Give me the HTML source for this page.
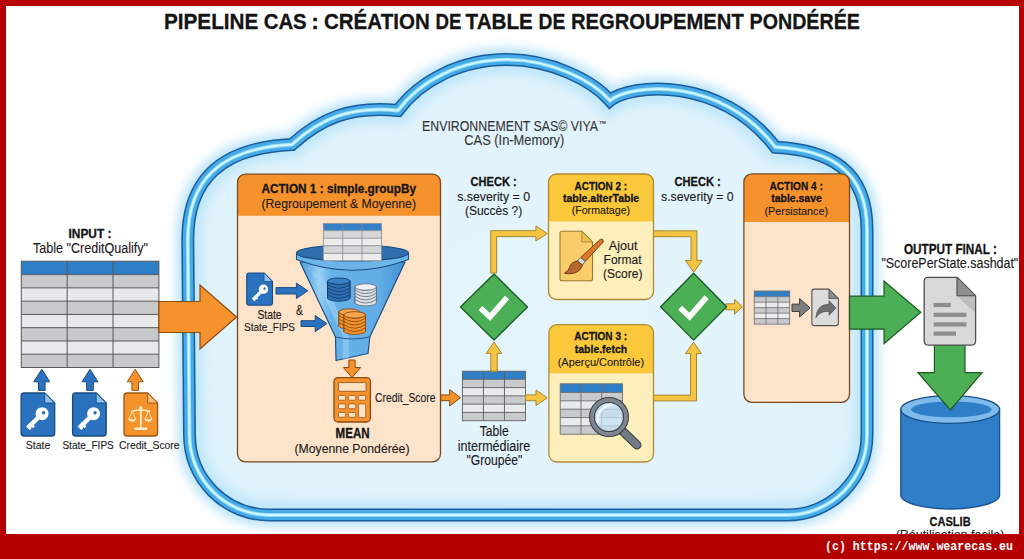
<!DOCTYPE html>
<html><head><meta charset="utf-8">
<style>
html,body{margin:0;padding:0;background:#fff;width:1024px;height:559px;overflow:hidden}
svg{display:block}
text{font-family:"Liberation Sans",sans-serif}
.m{font-family:"Liberation Mono",monospace}
</style></head><body>
<svg width="1024" height="559" viewBox="0 0 1024 559">
<defs><filter id="glow" x="-20%" y="-20%" width="140%" height="140%"><feGaussianBlur stdDeviation="6"/></filter><filter id="glow2" x="-20%" y="-20%" width="140%" height="140%"><feGaussianBlur stdDeviation="5"/></filter><radialGradient id="cfill" cx="0.5" cy="0.55" r="0.6"><stop offset="0" stop-color="#e5f5fd"/><stop offset="0.7" stop-color="#e1f3fc"/><stop offset="1" stop-color="#ddf2fc"/></radialGradient><path id="cloud" d="M 187.8 240 C 187.8 180 220 148 292 144.5 C 320 119 350 105.5 398 110.5 C 420 81 460 59.6 507 59.6 C 550 59.6 592 80 610 100.6 C 630 84 720 75 775.4 147.2 C 830 150 867 170 867 230 L 867 435 A 80 80 0 0 1 787 515 L 269.5 515 A 80 80 0 0 1 189.5 435 Z"/><clipPath id="cclip"><use href="#cloud"/></clipPath><linearGradient id="funnelg" x1="0" y1="0" x2="1" y2="0"><stop offset="0" stop-color="#4898dc"/><stop offset="0.18" stop-color="#96cff3"/><stop offset="0.3" stop-color="#66b1e8"/><stop offset="0.75" stop-color="#62ade6"/><stop offset="1" stop-color="#4390d2"/></linearGradient></defs>
<rect x="0" y="0" width="1024" height="559" fill="#b50000"/>
<rect x="6" y="6" width="1013" height="528" fill="#ffffff"/>
<use href="#cloud" fill="none" stroke="#b0e0f9" stroke-width="22" filter="url(#glow)"/>
<use href="#cloud" fill="url(#cfill)"/>
<g clip-path="url(#cclip)"><use href="#cloud" fill="none" stroke="#c0e7fa" stroke-width="28" filter="url(#glow2)"/></g>
<use href="#cloud" fill="none" stroke="#1a5d9c" stroke-width="13"/>
<use href="#cloud" fill="none" stroke="#45aae6" stroke-width="10"/>
<use href="#cloud" fill="none" stroke="#92dcf8" stroke-width="3.8"/>
<use href="#cloud" fill="none" stroke="#d2f7ff" stroke-width="1.9"/>
<text x="163.9" y="28.7" font-size="22.9" font-weight="bold" textLength="94.5" lengthAdjust="spacingAndGlyphs" fill="#141414" stroke="#141414" stroke-width="0.3" >PIPELINE</text>
<text x="263.70000000000005" y="28.7" font-size="22.9" font-weight="bold" textLength="43.0" lengthAdjust="spacingAndGlyphs" fill="#141414" stroke="#141414" stroke-width="0.3" >CAS</text>
<text x="311.29999999999995" y="28.7" font-size="22.9" font-weight="bold" fill="#141414" stroke="#141414" stroke-width="0.3" >:</text>
<text x="323.90000000000003" y="28.7" font-size="22.9" font-weight="bold" textLength="105.9" lengthAdjust="spacingAndGlyphs" fill="#141414" stroke="#141414" stroke-width="0.3" >CRÉATION</text>
<text x="435.5" y="28.7" font-size="22.9" font-weight="bold" textLength="25.9" lengthAdjust="spacingAndGlyphs" fill="#141414" stroke="#141414" stroke-width="0.3" >DE</text>
<text x="465.6" y="28.7" font-size="22.9" font-weight="bold" textLength="67.3" lengthAdjust="spacingAndGlyphs" fill="#141414" stroke="#141414" stroke-width="0.3" >TABLE</text>
<text x="538.6" y="28.7" font-size="22.9" font-weight="bold" textLength="26.8" lengthAdjust="spacingAndGlyphs" fill="#141414" stroke="#141414" stroke-width="0.3" >DE</text>
<text x="570.9" y="28.7" font-size="22.9" font-weight="bold" textLength="172.9" lengthAdjust="spacingAndGlyphs" fill="#141414" stroke="#141414" stroke-width="0.3" >REGROUPEMENT</text>
<text x="749.6" y="28.7" font-size="22.9" font-weight="bold" textLength="110.3" lengthAdjust="spacingAndGlyphs" fill="#141414" stroke="#141414" stroke-width="0.3" >PONDÉRÉE</text>
<text x="422" y="130.5" font-size="15" textLength="176" lengthAdjust="spacingAndGlyphs" fill="#353535" stroke="#353535" stroke-width="0.12" >ENVIRONNEMENT SAS© VIYA</text>
<text x="598.8" y="126.3" font-size="7.6" fill="#353535" stroke="#353535" stroke-width="0.12" >™</text>
<text x="464.3" y="145.3" font-size="15" textLength="100" lengthAdjust="spacingAndGlyphs" fill="#353535" stroke="#353535" stroke-width="0.12" >CAS (In-Memory)</text>
<text x="90" y="237.7" font-size="12.6" font-weight="bold" text-anchor="middle" textLength="43" lengthAdjust="spacingAndGlyphs" fill="#141414" stroke="#141414" stroke-width="0.3" >INPUT :</text>
<text x="33" y="253" font-size="13.8" textLength="115" lengthAdjust="spacingAndGlyphs" fill="#1a1a1a" stroke="#1a1a1a" stroke-width="0.12" >Table "CreditQualify"</text>
<rect x="21.3" y="261.2" width="137.6" height="13.4" fill="#2f7fc6"/>
<rect x="21.3" y="274.60" width="137.6" height="13.27" fill="#c8c9cb"/>
<rect x="21.3" y="287.87" width="137.6" height="13.27" fill="#e8e9eb"/>
<rect x="21.3" y="301.14" width="137.6" height="13.27" fill="#c8c9cb"/>
<rect x="21.3" y="314.41" width="137.6" height="13.27" fill="#e8e9eb"/>
<rect x="21.3" y="327.69" width="137.6" height="13.27" fill="#c8c9cb"/>
<rect x="21.3" y="340.96" width="137.6" height="13.27" fill="#e8e9eb"/>
<rect x="21.3" y="354.23" width="137.6" height="13.27" fill="#c8c9cb"/>
<line x1="21.3" y1="287.87" x2="158.9" y2="287.87" stroke="#55575a" stroke-width="1"/>
<line x1="21.3" y1="301.14" x2="158.9" y2="301.14" stroke="#55575a" stroke-width="1"/>
<line x1="21.3" y1="314.41" x2="158.9" y2="314.41" stroke="#55575a" stroke-width="1"/>
<line x1="21.3" y1="327.69" x2="158.9" y2="327.69" stroke="#55575a" stroke-width="1"/>
<line x1="21.3" y1="340.96" x2="158.9" y2="340.96" stroke="#55575a" stroke-width="1"/>
<line x1="21.3" y1="354.23" x2="158.9" y2="354.23" stroke="#55575a" stroke-width="1"/>
<line x1="21.3" y1="274.59999999999997" x2="158.9" y2="274.59999999999997" stroke="#55575a" stroke-width="1"/>
<line x1="67.17" y1="261.2" x2="67.17" y2="367.5" stroke="#55575a" stroke-width="1"/>
<line x1="113.03" y1="261.2" x2="113.03" y2="367.5" stroke="#55575a" stroke-width="1"/>
<rect x="21.3" y="261.2" width="137.6" height="106.3" fill="none" stroke="#55575a" stroke-width="1"/>
<polygon points="158.8,301.5 200,301.5 200,285 236.6,317 200,349 200,332.5 158.8,332.5" fill="#f6922b" stroke="#8a4a14" stroke-width="1.2" stroke-linejoin="miter"/>
<polygon points="38.5,390.4 38.5,381.8 33.8,381.8 41.8,369.3 49.8,381.8 45.099999999999994,381.8 45.099999999999994,390.4" fill="#2a72be" stroke="#1b4a82" stroke-width="1" stroke-linejoin="miter"/>
<path d="M24.1,393 L44.7,393 L54.7,403 L54.7,433 Q54.7,436 51.7,436 L24.1,436 Q21.1,436 21.1,433 L21.1,396 Q21.1,393 24.1,393 Z" fill="#2a72be" stroke="#1b4a82" stroke-width="1.3" stroke-linejoin="round"/>
<path d="M44.7,393 L44.7,403 L54.7,403 Z" fill="#8cc2ee" stroke="#1b4a82" stroke-width="0.9099999999999999" stroke-linejoin="round"/>
<polygon points="86.7,390.4 86.7,381.8 82,381.8 90,369.3 98,381.8 93.3,381.8 93.3,390.4" fill="#2a72be" stroke="#1b4a82" stroke-width="1" stroke-linejoin="miter"/>
<path d="M75.6,393 L96.19999999999999,393 L106.19999999999999,403 L106.19999999999999,433 Q106.19999999999999,436 103.19999999999999,436 L75.6,436 Q72.6,436 72.6,433 L72.6,396 Q72.6,393 75.6,393 Z" fill="#2a72be" stroke="#1b4a82" stroke-width="1.3" stroke-linejoin="round"/>
<path d="M96.19999999999999,393 L96.19999999999999,403 L106.19999999999999,403 Z" fill="#8cc2ee" stroke="#1b4a82" stroke-width="0.9099999999999999" stroke-linejoin="round"/>
<polygon points="131.89999999999998,390.4 131.89999999999998,381.8 127.19999999999999,381.8 135.2,369.3 143.2,381.8 138.5,381.8 138.5,390.4" fill="#f6922b" stroke="#9a5514" stroke-width="1" stroke-linejoin="miter"/>
<path d="M127,393 L147.6,393 L157.6,403 L157.6,433 Q157.6,436 154.6,436 L127,436 Q124,436 124,433 L124,396 Q124,393 127,393 Z" fill="#f6922b" stroke="#9a5514" stroke-width="1.3" stroke-linejoin="round"/>
<path d="M147.6,393 L147.6,403 L157.6,403 Z" fill="#f8bf78" stroke="#9a5514" stroke-width="0.9099999999999999" stroke-linejoin="round"/>
<g transform="translate(37.5,418.3) scale(1.3) rotate(45)" fill="#fff"><circle cx="0" cy="-5" r="5"/><rect x="-1.7" y="-2" width="3.4" height="12.5" rx="0.6"/><rect x="-1.7" y="5.8" width="4.6" height="2"/><rect x="-1.7" y="8.6" width="3.9" height="1.9"/></g>
<g transform="translate(37.5,418.3) scale(1.3) rotate(45)"><circle cx="0.3" cy="-6.3" r="1.3" fill="#2a6fb8"/></g>
<g transform="translate(89,418.3) scale(1.3) rotate(45)" fill="#fff"><circle cx="0" cy="-5" r="5"/><rect x="-1.7" y="-2" width="3.4" height="12.5" rx="0.6"/><rect x="-1.7" y="5.8" width="4.6" height="2"/><rect x="-1.7" y="8.6" width="3.9" height="1.9"/></g>
<g transform="translate(89,418.3) scale(1.3) rotate(45)"><circle cx="0.3" cy="-6.3" r="1.3" fill="#2a6fb8"/></g>
<g fill="#fdeccb" stroke="none"><rect x="139.9" y="407" width="1.8" height="21"/><rect x="134.3" y="427.5" width="13" height="2.4" rx="0.5"/><path d="M131.5,411.4 Q140.8,408.6 150.1,411.4" fill="none" stroke="#fdeccb" stroke-width="1.6"/><path d="M128.8,419.5 L132.3,411.2 L135.8,419.5" fill="none" stroke="#fdeccb" stroke-width="0.9"/><path d="M144.9,419.5 L148.4,411.2 L151.9,419.5" fill="none" stroke="#fdeccb" stroke-width="0.9"/><path d="M128,419.2 Q132.3,425 136.6,419.2 Z"/><path d="M144.1,419.2 Q148.4,425 152.7,419.2 Z"/><circle cx="140.8" cy="407.6" r="1.6"/></g>
<text x="38" y="449.4" font-size="11.8" text-anchor="middle" textLength="24.6" lengthAdjust="spacingAndGlyphs" fill="#1a1a1a" stroke="#1a1a1a" stroke-width="0.12" >State</text>
<text x="62.4" y="449.4" font-size="11.8" textLength="51.4" lengthAdjust="spacingAndGlyphs" fill="#1a1a1a" stroke="#1a1a1a" stroke-width="0.12" >State_FIPS</text>
<text x="119" y="449.4" font-size="11.8" textLength="60.6" lengthAdjust="spacingAndGlyphs" fill="#1a1a1a" stroke="#1a1a1a" stroke-width="0.12" >Credit_Score</text>
<rect x="237.5" y="174.2" width="203" height="287.6" rx="8" fill="#fde3ca"/>
<path d="M237.5,215.79999999999998 L237.5,182.2 Q237.5,174.2 245.5,174.2 L432.5,174.2 Q440.5,174.2 440.5,182.2 L440.5,215.79999999999998 Z" fill="#f6922b"/>
<rect x="237.5" y="174.2" width="203" height="287.6" rx="8" fill="none" stroke="#7a4a1e" stroke-width="1.3"/>
<text x="338.7" y="193.3" font-size="12.8" font-weight="bold" text-anchor="middle" textLength="154.6" lengthAdjust="spacingAndGlyphs" fill="#141414" stroke="#141414" stroke-width="0.3" >ACTION 1 : simple.groupBy</text>
<text x="338.7" y="208.3" font-size="12.8" text-anchor="middle" textLength="154.6" lengthAdjust="spacingAndGlyphs" fill="#1a1a1a" stroke="#1a1a1a" stroke-width="0.12" >(Regroupement &amp; Moyenne)</text>
<path d="M300,262 L335.5,337 L336,360.5 L368,353.5 L369.8,337 L405,262 Z" fill="url(#funnelg)" stroke="#1d4f85" stroke-width="1.2" stroke-linejoin="round"/>
<path d="M312,272 L343,337 L343,359 L349,358 L349,337 L322,274 Z" fill="#9fd3f4" opacity="0.55"/>
<path d="M296.5,253 L296.5,259.5 Q352.5,281 408.5,259.5 L408.5,253 Z" fill="#6db4ea" stroke="#1d4f85" stroke-width="1.1" stroke-linejoin="round"/>
<path d="M335.5,337 Q352,341 369.8,337" fill="none" stroke="#1d4f85" stroke-width="0.9"/>
<ellipse cx="352.5" cy="253" rx="56" ry="8" fill="#2f6fae" stroke="#1d4f85" stroke-width="1.2"/>
<rect x="323.3" y="223.6" width="58.1" height="7.1" fill="#3582c8"/>
<rect x="323.3" y="230.70" width="58.1" height="7.53" fill="#d5d6d8"/>
<rect x="323.3" y="238.22" width="58.1" height="7.53" fill="#ececec"/>
<rect x="323.3" y="245.75" width="58.1" height="7.53" fill="#d5d6d8"/>
<rect x="323.3" y="253.27" width="58.1" height="7.53" fill="#ececec"/>
<line x1="323.3" y1="238.22" x2="381.40000000000003" y2="238.22" stroke="#8a8c90" stroke-width="0.8"/>
<line x1="323.3" y1="245.75" x2="381.40000000000003" y2="245.75" stroke="#8a8c90" stroke-width="0.8"/>
<line x1="323.3" y1="253.27" x2="381.40000000000003" y2="253.27" stroke="#8a8c90" stroke-width="0.8"/>
<line x1="323.3" y1="230.7" x2="381.40000000000003" y2="230.7" stroke="#8a8c90" stroke-width="0.8"/>
<line x1="342.67" y1="223.6" x2="342.67" y2="260.8" stroke="#8a8c90" stroke-width="0.8"/>
<line x1="362.03" y1="223.6" x2="362.03" y2="260.8" stroke="#8a8c90" stroke-width="0.8"/>
<rect x="323.3" y="223.6" width="58.1" height="37.2" fill="none" stroke="#8a8c90" stroke-width="0.8"/>
<rect x="327.6" y="281.2" width="22.4" height="16.799999999999997" fill="#2d6fb6" stroke="#163f6d" stroke-width="0.9"/>
<ellipse cx="338.8" cy="298.0" rx="11.2" ry="3.2" fill="#2d6fb6" stroke="#163f6d" stroke-width="0.9"/>
<rect x="328.1" y="281.2" width="21.4" height="16.799999999999997" fill="#2d6fb6"/>
<path d="M327.6,281.36 Q338.8,288.40 350.0,281.36" fill="none" stroke="#163f6d" stroke-width="0.9"/>
<path d="M327.6,284.72 Q338.8,291.76 350.0,284.72" fill="none" stroke="#163f6d" stroke-width="0.9"/>
<path d="M327.6,288.08 Q338.8,295.12 350.0,288.08" fill="none" stroke="#163f6d" stroke-width="0.9"/>
<path d="M327.6,291.44 Q338.8,298.48 350.0,291.44" fill="none" stroke="#163f6d" stroke-width="0.9"/>
<path d="M327.6,294.80 Q338.8,301.84 350.0,294.80" fill="none" stroke="#163f6d" stroke-width="0.9"/>
<line x1="327.6" y1="281.2" x2="327.6" y2="298.0" stroke="#163f6d" stroke-width="0.9"/>
<line x1="350.0" y1="281.2" x2="350.0" y2="298.0" stroke="#163f6d" stroke-width="0.9"/>
<ellipse cx="338.8" cy="281.2" rx="11.2" ry="3.2" fill="#3b7fc4" stroke="#163f6d" stroke-width="0.9"/>
<rect x="355" y="287.0" width="21.4" height="15.700000000000001" fill="#dde2e8" stroke="#66707c" stroke-width="0.9"/>
<ellipse cx="365.7" cy="302.70000000000005" rx="10.7" ry="3.2" fill="#dde2e8" stroke="#66707c" stroke-width="0.9"/>
<rect x="355.5" y="287.0" width="20.4" height="15.700000000000001" fill="#dde2e8"/>
<path d="M355,286.94 Q365.7,293.98 376.4,286.94" fill="none" stroke="#66707c" stroke-width="0.9"/>
<path d="M355,290.08 Q365.7,297.12 376.4,290.08" fill="none" stroke="#66707c" stroke-width="0.9"/>
<path d="M355,293.22 Q365.7,300.26 376.4,293.22" fill="none" stroke="#66707c" stroke-width="0.9"/>
<path d="M355,296.36 Q365.7,303.40 376.4,296.36" fill="none" stroke="#66707c" stroke-width="0.9"/>
<path d="M355,299.50 Q365.7,306.54 376.4,299.50" fill="none" stroke="#66707c" stroke-width="0.9"/>
<line x1="355" y1="287.0" x2="355" y2="302.70000000000005" stroke="#66707c" stroke-width="0.9"/>
<line x1="376.4" y1="287.0" x2="376.4" y2="302.70000000000005" stroke="#66707c" stroke-width="0.9"/>
<ellipse cx="365.7" cy="287.0" rx="10.7" ry="3.2" fill="#eef1f4" stroke="#66707c" stroke-width="0.9"/>
<rect x="338.8" y="312.09999999999997" width="20.9" height="13.700000000000001" fill="#f6922b" stroke="#8a4a10" stroke-width="0.9"/>
<ellipse cx="349.25" cy="325.8" rx="10.45" ry="3.2" fill="#f6922b" stroke="#8a4a10" stroke-width="0.9"/>
<rect x="339.3" y="312.09999999999997" width="19.9" height="13.700000000000001" fill="#f6922b"/>
<path d="M338.8,312.32 Q349.25,319.36 359.7,312.32" fill="none" stroke="#8a4a10" stroke-width="0.9"/>
<path d="M338.8,315.75 Q349.25,322.79 359.7,315.75" fill="none" stroke="#8a4a10" stroke-width="0.9"/>
<path d="M338.8,319.17 Q349.25,326.21 359.7,319.17" fill="none" stroke="#8a4a10" stroke-width="0.9"/>
<path d="M338.8,322.60 Q349.25,329.64 359.7,322.60" fill="none" stroke="#8a4a10" stroke-width="0.9"/>
<line x1="338.8" y1="312.09999999999997" x2="338.8" y2="325.8" stroke="#8a4a10" stroke-width="0.9"/>
<line x1="359.7" y1="312.09999999999997" x2="359.7" y2="325.8" stroke="#8a4a10" stroke-width="0.9"/>
<ellipse cx="349.25" cy="312.09999999999997" rx="10.45" ry="3.2" fill="#f6a54d" stroke="#8a4a10" stroke-width="0.9"/>
<rect x="343.9" y="314.9" width="21.6" height="16.299999999999997" fill="#f6922b" stroke="#8a4a10" stroke-width="0.9"/>
<ellipse cx="354.7" cy="331.2" rx="10.8" ry="3.2" fill="#f6922b" stroke="#8a4a10" stroke-width="0.9"/>
<rect x="344.4" y="314.9" width="20.6" height="16.299999999999997" fill="#f6922b"/>
<path d="M343.9,314.96 Q354.7,322.00 365.5,314.96" fill="none" stroke="#8a4a10" stroke-width="0.9"/>
<path d="M343.9,318.22 Q354.7,325.26 365.5,318.22" fill="none" stroke="#8a4a10" stroke-width="0.9"/>
<path d="M343.9,321.48 Q354.7,328.52 365.5,321.48" fill="none" stroke="#8a4a10" stroke-width="0.9"/>
<path d="M343.9,324.74 Q354.7,331.78 365.5,324.74" fill="none" stroke="#8a4a10" stroke-width="0.9"/>
<path d="M343.9,328.00 Q354.7,335.04 365.5,328.00" fill="none" stroke="#8a4a10" stroke-width="0.9"/>
<line x1="343.9" y1="314.9" x2="343.9" y2="331.2" stroke="#8a4a10" stroke-width="0.9"/>
<line x1="365.5" y1="314.9" x2="365.5" y2="331.2" stroke="#8a4a10" stroke-width="0.9"/>
<ellipse cx="354.7" cy="314.9" rx="10.8" ry="3.2" fill="#f6a54d" stroke="#8a4a10" stroke-width="0.9"/>
<path d="M249.2,273 L264.0,273 L272.5,281.5 L272.5,302.8 Q272.5,305.3 270.0,305.3 L249.2,305.3 Q246.7,305.3 246.7,302.8 L246.7,275.5 Q246.7,273 249.2,273 Z" fill="#2a72be" stroke="#1b4a82" stroke-width="1.1" stroke-linejoin="round"/>
<path d="M264.0,273 L264.0,281.5 L272.5,281.5 Z" fill="#8cc2ee" stroke="#1b4a82" stroke-width="0.77" stroke-linejoin="round"/>
<g transform="translate(260.1,292.6) scale(0.95) rotate(45)" fill="#fff"><circle cx="0" cy="-5" r="5"/><rect x="-1.7" y="-2" width="3.4" height="12.5" rx="0.6"/><rect x="-1.7" y="5.8" width="4.6" height="2"/><rect x="-1.7" y="8.6" width="3.9" height="1.9"/></g>
<g transform="translate(260.1,292.6) scale(0.95) rotate(45)"><circle cx="0.3" cy="-6.3" r="1.3" fill="#2a6fb8"/></g>
<polygon points="276,287.6 296.4,287.6 296.4,283.1 307.8,290.8 296.4,298.5 296.4,294.0 276,294.0" fill="#2a72be" stroke="#1b4a82" stroke-width="1" stroke-linejoin="miter"/>
<polygon points="301,320.70000000000005 315.2,320.70000000000005 315.2,315.6 327,323.6 315.2,331.6 315.2,326.5 301,326.5" fill="#2a72be" stroke="#1b4a82" stroke-width="1" stroke-linejoin="miter"/>
<text x="299.4" y="314.6" font-size="14.6" text-anchor="middle" textLength="7" lengthAdjust="spacingAndGlyphs" fill="#1a1a1a" stroke="#1a1a1a" stroke-width="0.12" >&amp;</text>
<text x="269.5" y="318.9" font-size="11.9" text-anchor="middle" textLength="24.2" lengthAdjust="spacingAndGlyphs" fill="#1a1a1a" stroke="#1a1a1a" stroke-width="0.12" >State</text>
<text x="244" y="331.3" font-size="11.7" textLength="51" lengthAdjust="spacingAndGlyphs" fill="#1a1a1a" stroke="#1a1a1a" stroke-width="0.12" >State_FIPS</text>
<polygon points="348.9,360 348.9,367.5 343.4,367.5 352,377.6 360.6,367.5 355.1,367.5 355.1,360" fill="#f6922b" stroke="#8a4a14" stroke-width="1" stroke-linejoin="miter"/>
<rect x="334" y="377.6" width="36.4" height="44.4" rx="4" fill="#f6922b" stroke="#8a4a14" stroke-width="1.3"/>
<rect x="338.5" y="382.6" width="27.6" height="8.7" rx="1" fill="#fde3c6" stroke="#8a4a14" stroke-width="0.8"/>
<rect x="338.5" y="395.4" width="7.1" height="4.8" rx="0.8" fill="#fde3c6" stroke="#8a4a14" stroke-width="0.7"/>
<rect x="348.6" y="395.4" width="7.1" height="4.8" rx="0.8" fill="#fde3c6" stroke="#8a4a14" stroke-width="0.7"/>
<rect x="358.6" y="395.4" width="7.1" height="4.8" rx="0.8" fill="#fde3c6" stroke="#8a4a14" stroke-width="0.7"/>
<rect x="338.5" y="403.9" width="7.1" height="4.8" rx="0.8" fill="#fde3c6" stroke="#8a4a14" stroke-width="0.7"/>
<rect x="348.6" y="403.9" width="7.1" height="4.8" rx="0.8" fill="#fde3c6" stroke="#8a4a14" stroke-width="0.7"/>
<rect x="338.5" y="412.4" width="7.1" height="4.8" rx="0.8" fill="#fde3c6" stroke="#8a4a14" stroke-width="0.7"/>
<rect x="348.6" y="412.4" width="7.1" height="4.8" rx="0.8" fill="#fde3c6" stroke="#8a4a14" stroke-width="0.7"/>
<rect x="358.6" y="403.9" width="7.1" height="13.5" rx="0.8" fill="#fde3c6" stroke="#8a4a14" stroke-width="0.7"/>
<text x="375.1" y="402" font-size="12.4" textLength="60.4" lengthAdjust="spacingAndGlyphs" fill="#1a1a1a" stroke="#1a1a1a" stroke-width="0.12" >Credit_Score</text>
<text x="352.6" y="438" font-size="14" font-weight="bold" text-anchor="middle" textLength="34" lengthAdjust="spacingAndGlyphs" fill="#141414" stroke="#141414" stroke-width="0.3" >MEAN</text>
<text x="352" y="452.8" font-size="13.2" text-anchor="middle" textLength="115" lengthAdjust="spacingAndGlyphs" fill="#1a1a1a" stroke="#1a1a1a" stroke-width="0.12" >(Moyenne Pondérée)</text>
<polygon points="440.8,394.90000000000003 449.7,394.90000000000003 449.7,389.6 460.5,397.8 449.7,406.0 449.7,400.7 440.8,400.7" fill="#f6922b" stroke="#8a4a14" stroke-width="1" stroke-linejoin="miter"/>
<rect x="462.4" y="371.2" width="63.1" height="8.1" fill="#2f7fc6"/>
<rect x="462.4" y="379.30" width="63.1" height="8.28" fill="#c9cacc"/>
<rect x="462.4" y="387.58" width="63.1" height="8.28" fill="#e9eaeb"/>
<rect x="462.4" y="395.86" width="63.1" height="8.28" fill="#c9cacc"/>
<rect x="462.4" y="404.14" width="63.1" height="8.28" fill="#e9eaeb"/>
<rect x="462.4" y="412.42" width="63.1" height="8.28" fill="#c9cacc"/>
<line x1="462.4" y1="387.58" x2="525.5" y2="387.58" stroke="#5f6063" stroke-width="0.9"/>
<line x1="462.4" y1="395.86" x2="525.5" y2="395.86" stroke="#5f6063" stroke-width="0.9"/>
<line x1="462.4" y1="404.14" x2="525.5" y2="404.14" stroke="#5f6063" stroke-width="0.9"/>
<line x1="462.4" y1="412.42" x2="525.5" y2="412.42" stroke="#5f6063" stroke-width="0.9"/>
<line x1="462.4" y1="379.3" x2="525.5" y2="379.3" stroke="#5f6063" stroke-width="0.9"/>
<line x1="483.43" y1="371.2" x2="483.43" y2="420.7" stroke="#5f6063" stroke-width="0.9"/>
<line x1="504.47" y1="371.2" x2="504.47" y2="420.7" stroke="#5f6063" stroke-width="0.9"/>
<rect x="462.4" y="371.2" width="63.1" height="49.5" fill="none" stroke="#5f6063" stroke-width="0.9"/>
<text x="494.2" y="436.4" font-size="13.8" text-anchor="middle" textLength="29" lengthAdjust="spacingAndGlyphs" fill="#1a1a1a" stroke="#1a1a1a" stroke-width="0.12" >Table</text>
<text x="494" y="451" font-size="13.8" text-anchor="middle" textLength="72.5" lengthAdjust="spacingAndGlyphs" fill="#1a1a1a" stroke="#1a1a1a" stroke-width="0.12" >intermédiaire</text>
<text x="494.4" y="465.2" font-size="13.8" text-anchor="middle" textLength="56" lengthAdjust="spacingAndGlyphs" fill="#1a1a1a" stroke="#1a1a1a" stroke-width="0.12" >"Groupée"</text>
<polygon points="490.8,371.2 490.8,353.4 486.3,353.4 494,342 501.7,353.4 497.2,353.4 497.2,371.2" fill="#f6c443" stroke="#a5852e" stroke-width="1" stroke-linejoin="miter"/>
<polygon points="525.5,394.90000000000003 536,394.90000000000003 536,390.0 547.2,397.8 536,405.6 536,400.7 525.5,400.7" fill="#f6c443" stroke="#a5852e" stroke-width="1" stroke-linejoin="miter"/>
<polygon points="490.7,273 490.7,230.7 535.9,230.7 535.9,225.9 547.3,233.6 535.9,240.9 535.9,236.6 496.6,236.6 496.6,273" fill="#f6c443" stroke="#a5852e" stroke-width="1"/>
<polygon points="653.5,230.8 696.9,230.8 696.9,260.4 702.2,260.4 693.8,272.4 685.4,260.4 691,260.4 691,236.7 653.5,236.7" fill="#f6c443" stroke="#a5852e" stroke-width="1"/>
<polygon points="653.5,400.9 696.5,400.9 696.5,353.6 701.5,353.6 693.6,342.2 685.4,353.6 690.5,353.6 690.5,395.1 653.5,395.1" fill="#f6c443" stroke="#a5852e" stroke-width="1"/>
<polygon points="725.8,303.85 734.6,303.85 734.6,299.40000000000003 742.3,306.8 734.6,314.2 734.6,309.75 725.8,309.75" fill="#f6c443" stroke="#a5852e" stroke-width="1" stroke-linejoin="miter"/>
<polygon points="494,274 527.5,307 494,340 460.5,307" fill="#4caf55" stroke="#155a20" stroke-width="1.3" stroke-linejoin="round"/>
<path d="M480.5,308 L490,317 L507,297.5" fill="none" stroke="#fff" stroke-width="5.6" stroke-linecap="butt" stroke-linejoin="miter"/>
<polygon points="693.6,273.3 726.6,306.7 693.6,340.09999999999997 660.6,306.7" fill="#4caf55" stroke="#155a20" stroke-width="1.3" stroke-linejoin="round"/>
<path d="M680.1,307.7 L689.6,316.7 L706.6,297.2" fill="none" stroke="#fff" stroke-width="5.6" stroke-linecap="butt" stroke-linejoin="miter"/>
<text x="493.6" y="185.6" font-size="12.6" font-weight="bold" text-anchor="middle" textLength="46.1" lengthAdjust="spacingAndGlyphs" fill="#141414" stroke="#141414" stroke-width="0.3" >CHECK :</text>
<text x="457.2" y="200.7" font-size="13.1" textLength="72.9" lengthAdjust="spacingAndGlyphs" fill="#1a1a1a" stroke="#1a1a1a" stroke-width="0.12" >s.severity = 0</text>
<text x="464.9" y="214.6" font-size="13.1" textLength="57.4" lengthAdjust="spacingAndGlyphs" fill="#1a1a1a" stroke="#1a1a1a" stroke-width="0.12" >(Succès ?)</text>
<text x="697.6" y="185.8" font-size="12.6" font-weight="bold" text-anchor="middle" textLength="46.2" lengthAdjust="spacingAndGlyphs" fill="#141414" stroke="#141414" stroke-width="0.3" >CHECK :</text>
<text x="661" y="200.6" font-size="13.1" textLength="72.6" lengthAdjust="spacingAndGlyphs" fill="#1a1a1a" stroke="#1a1a1a" stroke-width="0.12" >s.severity = 0</text>
<rect x="548.5" y="174" width="105" height="125.5" rx="8" fill="#fdefbc"/>
<path d="M548.5,221.6 L548.5,182 Q548.5,174 556.5,174 L645.5,174 Q653.5,174 653.5,182 L653.5,221.6 Z" fill="#fac83a"/>
<rect x="548.5" y="174" width="105" height="125.5" rx="8" fill="none" stroke="#b08a35" stroke-width="1.3"/>
<text x="600.85" y="189.8" font-size="11.3" font-weight="bold" text-anchor="middle" textLength="52.7" lengthAdjust="spacingAndGlyphs" fill="#141414" stroke="#141414" stroke-width="0.3" >ACTION 2 :</text>
<text x="601.05" y="202.4" font-size="11.3" font-weight="bold" text-anchor="middle" textLength="76.3" lengthAdjust="spacingAndGlyphs" fill="#141414" stroke="#141414" stroke-width="0.3" >table.alterTable</text>
<text x="600.9" y="214.4" font-size="11.3" text-anchor="middle" textLength="58.4" lengthAdjust="spacingAndGlyphs" fill="#1a1a1a" stroke="#1a1a1a" stroke-width="0.12" >(Formatage)</text>
<path d="M562,231.3 L581.9,231.3 L592.5,241.9 L592.5,278.7 Q592.5,280.7 590.5,280.7 L562,280.7 Q560,280.7 560,278.7 L560,233.3 Q560,231.3 562,231.3 Z" fill="#f9cd6a" stroke="#9a7a30" stroke-width="1.1" stroke-linejoin="round"/>
<path d="M581.9,231.3 L581.9,241.9 L592.5,241.9 Z" fill="#efbf50" stroke="#9a7a30" stroke-width="0.77" stroke-linejoin="round"/>
<g><path d="M600.5,239.2 Q603.8,238.8 603.2,242 L585.2,261.4 L580.6,257.6 Z" fill="#d9792c" stroke="#7a3e12" stroke-width="1"/><path d="M580.6,257.6 L585.2,261.4 L582.4,265 L577.4,261 Z" fill="#d6dde3" stroke="#5a5f66" stroke-width="0.9"/><path d="M577.4,261 L582.4,265 Q580,273 571,273.6 Q567,274 564.4,273.2 Q568.5,271 569.5,267.5 Q571,262 577.4,261 Z" fill="#b5692f" stroke="#6e3510" stroke-width="1"/></g>
<text x="623.1" y="249.5" font-size="13.1" text-anchor="middle" textLength="28.6" lengthAdjust="spacingAndGlyphs" fill="#1a1a1a" stroke="#1a1a1a" stroke-width="0.12" >Ajout</text>
<text x="622.6" y="264.2" font-size="13.1" text-anchor="middle" textLength="38" lengthAdjust="spacingAndGlyphs" fill="#1a1a1a" stroke="#1a1a1a" stroke-width="0.12" >Format</text>
<text x="622.7" y="278.4" font-size="13.1" text-anchor="middle" textLength="39.4" lengthAdjust="spacingAndGlyphs" fill="#1a1a1a" stroke="#1a1a1a" stroke-width="0.12" >(Score)</text>
<rect x="548.9" y="324.7" width="104.6" height="137.3" rx="8" fill="#fdefbc"/>
<path d="M548.9,373.2 L548.9,332.7 Q548.9,324.7 556.9,324.7 L645.5,324.7 Q653.5,324.7 653.5,332.7 L653.5,373.2 Z" fill="#fac83a"/>
<rect x="548.9" y="324.7" width="104.6" height="137.3" rx="8" fill="none" stroke="#b08a35" stroke-width="1.3"/>
<text x="600.65" y="340.4" font-size="11.3" font-weight="bold" text-anchor="middle" textLength="52.9" lengthAdjust="spacingAndGlyphs" fill="#141414" stroke="#141414" stroke-width="0.3" >ACTION 3 :</text>
<text x="600.95" y="353.3" font-size="11.3" font-weight="bold" text-anchor="middle" textLength="52.3" lengthAdjust="spacingAndGlyphs" fill="#141414" stroke="#141414" stroke-width="0.3" >table.fetch</text>
<text x="600.9" y="365.7" font-size="11.3" text-anchor="middle" textLength="86.4" lengthAdjust="spacingAndGlyphs" fill="#1a1a1a" stroke="#1a1a1a" stroke-width="0.12" >(Aperçu/Contrôle)</text>
<rect x="560.2" y="383.8" width="62.3" height="8.7" fill="#2f7fc6"/>
<rect x="560.2" y="392.50" width="62.3" height="8.34" fill="#c9cacc"/>
<rect x="560.2" y="400.84" width="62.3" height="8.34" fill="#e9eaeb"/>
<rect x="560.2" y="409.18" width="62.3" height="8.34" fill="#c9cacc"/>
<rect x="560.2" y="417.52" width="62.3" height="8.34" fill="#e9eaeb"/>
<rect x="560.2" y="425.86" width="62.3" height="8.34" fill="#c9cacc"/>
<line x1="560.2" y1="400.84" x2="622.5" y2="400.84" stroke="#6b6c70" stroke-width="0.9"/>
<line x1="560.2" y1="409.18" x2="622.5" y2="409.18" stroke="#6b6c70" stroke-width="0.9"/>
<line x1="560.2" y1="417.52" x2="622.5" y2="417.52" stroke="#6b6c70" stroke-width="0.9"/>
<line x1="560.2" y1="425.86" x2="622.5" y2="425.86" stroke="#6b6c70" stroke-width="0.9"/>
<line x1="560.2" y1="392.5" x2="622.5" y2="392.5" stroke="#6b6c70" stroke-width="0.9"/>
<line x1="580.97" y1="383.8" x2="580.97" y2="434.2" stroke="#6b6c70" stroke-width="0.9"/>
<line x1="601.73" y1="383.8" x2="601.73" y2="434.2" stroke="#6b6c70" stroke-width="0.9"/>
<rect x="560.2" y="383.8" width="62.3" height="50.4" fill="none" stroke="#6b6c70" stroke-width="0.9"/>
<line x1="623.5" y1="432" x2="637" y2="445" stroke="#3a3f45" stroke-width="9" stroke-linecap="round"/>
<line x1="623.5" y1="432" x2="637" y2="445" stroke="#737b84" stroke-width="6.8" stroke-linecap="round"/>
<circle cx="609" cy="417" r="17" fill="#c4e2f4" fill-opacity="0.75" stroke="#3a3f45" stroke-width="6"/>
<circle cx="609" cy="417" r="17" fill="none" stroke="#7e868f" stroke-width="3.9"/>
<path d="M597.5,422 Q597,408 611,404.5" fill="none" stroke="#eef8ff" stroke-width="2.4" stroke-linecap="round"/>
<rect x="743.9" y="173.9" width="105.6" height="228.4" rx="8" fill="#fde3ca"/>
<path d="M743.9,221.9 L743.9,181.9 Q743.9,173.9 751.9,173.9 L841.5,173.9 Q849.5,173.9 849.5,181.9 L849.5,221.9 Z" fill="#f6922b"/>
<rect x="743.9" y="173.9" width="105.6" height="228.4" rx="8" fill="none" stroke="#7a4a1e" stroke-width="1.3"/>
<text x="796.15" y="189.6" font-size="11.3" font-weight="bold" text-anchor="middle" textLength="53.3" lengthAdjust="spacingAndGlyphs" fill="#141414" stroke="#141414" stroke-width="0.3" >ACTION 4 :</text>
<text x="796.55" y="202.3" font-size="11.3" font-weight="bold" text-anchor="middle" textLength="50.5" lengthAdjust="spacingAndGlyphs" fill="#141414" stroke="#141414" stroke-width="0.3" >table.save</text>
<text x="796.3" y="215" font-size="11.3" text-anchor="middle" textLength="63.6" lengthAdjust="spacingAndGlyphs" fill="#1a1a1a" stroke="#1a1a1a" stroke-width="0.12" >(Persistance)</text>
<rect x="754.2" y="291" width="35.5" height="5.7" fill="#2f7fc6"/>
<rect x="754.2" y="296.70" width="35.5" height="5.48" fill="#c9cacc"/>
<rect x="754.2" y="302.18" width="35.5" height="5.48" fill="#e9eaeb"/>
<rect x="754.2" y="307.66" width="35.5" height="5.48" fill="#c9cacc"/>
<rect x="754.2" y="313.14" width="35.5" height="5.48" fill="#e9eaeb"/>
<rect x="754.2" y="318.62" width="35.5" height="5.48" fill="#c9cacc"/>
<line x1="754.2" y1="302.18" x2="789.7" y2="302.18" stroke="#6b6c70" stroke-width="0.8"/>
<line x1="754.2" y1="307.66" x2="789.7" y2="307.66" stroke="#6b6c70" stroke-width="0.8"/>
<line x1="754.2" y1="313.14" x2="789.7" y2="313.14" stroke="#6b6c70" stroke-width="0.8"/>
<line x1="754.2" y1="318.62" x2="789.7" y2="318.62" stroke="#6b6c70" stroke-width="0.8"/>
<line x1="754.2" y1="296.7" x2="789.7" y2="296.7" stroke="#6b6c70" stroke-width="0.8"/>
<line x1="766.03" y1="291" x2="766.03" y2="324.1" stroke="#6b6c70" stroke-width="0.8"/>
<line x1="777.87" y1="291" x2="777.87" y2="324.1" stroke="#6b6c70" stroke-width="0.8"/>
<rect x="754.2" y="291" width="35.5" height="33.1" fill="none" stroke="#6b6c70" stroke-width="0.8"/>
<polygon points="792,304.1 799.6,304.1 799.6,298.6 810,307.8 799.6,317.0 799.6,311.5 792,311.5" fill="#7f7f7f" stroke="#3e3e3e" stroke-width="1" stroke-linejoin="miter"/>
<path d="M814.4,289.1 L828.9,289.1 L838.4,298.6 L838.4,323.1 Q838.4,325.6 835.9,325.6 L814.4,325.6 Q811.9,325.6 811.9,323.1 L811.9,291.6 Q811.9,289.1 814.4,289.1 Z" fill="#dcdcdc" stroke="#505050" stroke-width="1.1" stroke-linejoin="round"/>
<path d="M828.9,289.1 L828.9,298.6 L838.4,298.6 Z" fill="#8a8a8a" stroke="#505050" stroke-width="0.77" stroke-linejoin="round"/>
<path d="M815.8,318 Q817,304 829,304.2 L829,300.6 L836,308 L829,315.4 L829,311.5 Q820,310.5 815.8,318 Z" fill="#6e6e6e" stroke="#4a4a4a" stroke-width="0.6"/>
<polygon points="849.5,296.2 884,296.2 884,281 920.8,312.2 884,343.8 884,329.2 849.5,329.2" fill="#4caf55" stroke="#1b5a22" stroke-width="1.2"/>
<text x="950.4" y="253.8" font-size="14.2" font-weight="bold" text-anchor="middle" textLength="93" lengthAdjust="spacingAndGlyphs" fill="#141414" stroke="#141414" stroke-width="0.3" >OUTPUT FINAL :</text>
<text x="881.4" y="267.5" font-size="14" textLength="136.9" lengthAdjust="spacingAndGlyphs" fill="#1a1a1a" stroke="#1a1a1a" stroke-width="0.12" >"ScorePerState.sashdat"</text>
<path d="M900.8,409.5 L900.8,495 A49.4,14 0 0 0 999.6,495 L999.6,409.5 Z" fill="#2f7fc8" stroke="#1b4f8a" stroke-width="1.3"/>
<ellipse cx="950.2" cy="409.5" rx="49.4" ry="13.8" fill="#7fbbea" stroke="#1b4f8a" stroke-width="1.3"/>
<ellipse cx="951.3" cy="409.4" rx="40.3" ry="7.9" fill="#2f7fc8"/>
<polygon points="934.4,344 965,344 965,372.7 982,372.7 950.4,410 918,372.7 934.4,372.7" fill="#4caf55" stroke="#1b5a22" stroke-width="1.2"/>
<path d="M928.2,277.3 L957.1,277.3 L975.6,295.8 L975.6,341.1 Q975.6,345.1 971.6,345.1 L928.2,345.1 Q924.2,345.1 924.2,341.1 L924.2,281.3 Q924.2,277.3 928.2,277.3 Z" fill="#d9d9d9" stroke="#4f4f4f" stroke-width="1.3" stroke-linejoin="round"/>
<path d="M957.1,277.3 L957.1,295.8 L975.6,295.8 Z" fill="#8c8c8c" stroke="#4f4f4f" stroke-width="0.9099999999999999" stroke-linejoin="round"/>
<polygon points="957.3,296.2 975,296.2 975,312.5" fill="#bdbdbd"/>
<path d="M957.1,277.3 L957.1,295.8 L975.6,295.8 Z" fill="#8f8f8f" stroke="#4f4f4f" stroke-width="0.9" stroke-linejoin="round"/>
<rect x="933.6" y="302.9" width="17.100000000000023" height="4.2" fill="#8e8e8e"/>
<rect x="933.6" y="312.7" width="32.89999999999998" height="4.2" fill="#8e8e8e"/>
<rect x="933.6" y="322.29999999999995" width="32.89999999999998" height="4.2" fill="#8e8e8e"/>
<rect x="933.6" y="331.5" width="22.399999999999977" height="4.2" fill="#8e8e8e"/>
<text x="950.1" y="526.3" font-size="13.4" font-weight="bold" text-anchor="middle" textLength="41" lengthAdjust="spacingAndGlyphs" fill="#141414" stroke="#141414" stroke-width="0.3" >CASLIB</text>
<text x="950" y="539.2" font-size="13.2" text-anchor="middle" textLength="108.6" lengthAdjust="spacingAndGlyphs" fill="#1a1a1a" stroke="#1a1a1a" stroke-width="0.12" >(Réutilisation facile)</text>
<rect x="0" y="534" width="1024" height="25" fill="#b50000"/>
<rect x="1019" y="0" width="5" height="559" fill="#b50000"/>
<text class="m" x="825" y="549.8" font-size="12.2" font-weight="bold" fill="#fff" textLength="188" lengthAdjust="spacingAndGlyphs">(c) https://www.wearecas.eu</text>
</svg>
</body></html>
